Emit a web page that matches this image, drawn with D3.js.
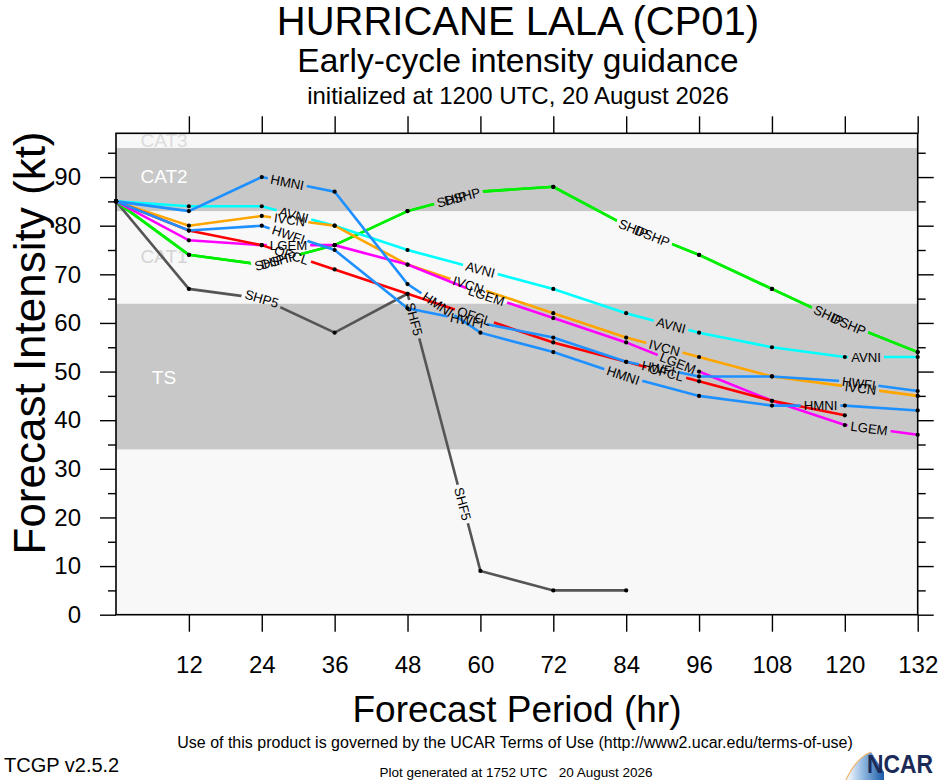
<!DOCTYPE html>
<html>
<head>
<meta charset="utf-8">
<script src="https://cdn.jsdelivr.net/npm/d3@7"></script>
<style>
  body { margin: 0; background: #fff; }
  text { font-family: "Liberation Sans", Arial, Helvetica, sans-serif; }
</style>
</head>
<body>
<svg id="chart"></svg>
<script>
// forecast hours and model intensities (kt)
const hours = [0, 12, 24, 36, 48, 60, 72, 84, 96, 108, 120, 132];
const shf5 = [85, 67, 65, 58, 66, 9, 5, 5, null, null, null, null];
const dshp = [85, 74, 72, 76, 83, 87, 88, 80, 74, 67, 60, 54];
const ship = [85, 74, 72, 76, 83, 87, 88, 80, 74, 67, 60, 54];
const avni = [85, 84, 84, 80, 75, 71, 67, 62, 58, 55, 53, 53];
const ivcn = [85, 80, 82, 80, 72, 67, 62, 57, 53, 49, 47, 45];
const lgem = [85, 77, 76, 76, 72, 66, 61, 56, 50, 44, 39, 37];
const ofcl = [85, 79, 76, 71, 66, 61, 56, 52, 48, 44, 41, null];
const hwfi = [85, 79, 80, 75, 63, 60, 57, 52, 49, 49, 48, 46];
const hmni = [85, 83, 90, 87, 68, 58, 54, 49, 45, 43, 43, 42];

// line labels along each track (forecast hour where the label sits)
const shf5Labels = [["SHP5", 24], ["SHF5", 49.1], ["SHF5", 57.1]];
const shipLabels = [25.3, 55.3, 85.2, 117.3];
const dshpLabels = [26.8, 57, 88.3, 120.6];
const avniLabels = [29.3, 60, 91.4, 123.5];
const ivcnLabels = [28.6, 58, 90.3, 122.6];
const lgemLabels = [28.4, 61, 92.5, 124];
const ofclLabels = [28.9, 59, 90.6];
const hwfiLabels = [28.4, 57.8, 89.3, 122.3];
const hmniLabels = [28.2, 53, 83.5, 116];

// intensity categories
const bandNames = ["TS", "CAT1", "CAT2", "CAT3"];
const bandLow = [34, 64, 83, 96];
const bandHigh = [64, 83, 96, 99];

const xTicks = [12, 24, 36, 48, 60, 72, 84, 96, 108, 120, 132];
const yTicks = [0, 10, 20, 30, 40, 50, 60, 70, 80, 90];
const yMinor = [5, 15, 25, 35, 45, 55, 65, 75, 85, 95];

const models = [
  { name: "SHF5", values: shf5, color: "#555555", labels: shf5Labels },
  { name: "DSHP", values: dshp, color: "#00ee00", labels: dshpLabels.map((h) => ["DSHP", h]) },
  { name: "SHIP", values: ship, color: "#00ee00", labels: shipLabels.map((h) => ["SHIP", h]) },
  { name: "AVNI", values: avni, color: "#00ffff", labels: avniLabels.map((h) => ["AVNI", h]) },
  { name: "IVCN", values: ivcn, color: "#ffa500", labels: ivcnLabels.map((h) => ["IVCN", h]) },
  { name: "LGEM", values: lgem, color: "#ff00ff", labels: lgemLabels.map((h) => ["LGEM", h]) },
  { name: "OFCL", values: ofcl, color: "#ff0000", labels: ofclLabels.map((h) => ["OFCL", h]) },
  { name: "HWFI", values: hwfi, color: "#1e90ff", labels: hwfiLabels.map((h) => ["HWFI", h]) },
  { name: "HMNI", values: hmni, color: "#1e90ff", labels: hmniLabels.map((h) => ["HMNI", h]) }
];

const width = 940,
  height = 780;
const labelSize = 13.2;

const svg = d3.select("#chart").attr("width", width).attr("height", height);

const x = d3.scaleLinear().domain([0, 132]).range([116, 917.7]);
const y = d3.scaleLinear().domain([0, 99]).range([614.7, 133.3]);

const defs = svg.append("defs");

// background + category bands
svg
  .append("rect")
  .attr("x", x(0))
  .attr("y", y(99))
  .attr("width", x(132) - x(0))
  .attr("height", y(0) - y(99))
  .attr("fill", "#f8f8f8");

svg
  .selectAll("rect.band")
  .data(bandNames)
  .enter()
  .append("rect")
  .attr("class", "band")
  .attr("x", x(0))
  .attr("y", (d, i) => y(bandHigh[i]))
  .attr("width", x(132) - x(0))
  .attr("height", (d, i) => y(bandLow[i]) - y(bandHigh[i]))
  .attr("fill", (d, i) => (i % 2 === 0 ? "#c8c8c8" : "#f8f8f8"));

// band labels
const bandLabelY = { TS: 384, CAT1: 263, CAT2: 183, CAT3: 146.5 };
svg
  .selectAll("text.band")
  .data(bandNames)
  .enter()
  .append("text")
  .attr("class", "band")
  .attr("x", 164)
  .attr("y", (d) => bandLabelY[d])
  .attr("text-anchor", "middle")
  .attr("font-size", 19)
  .attr("fill", (d, i) => (i % 2 === 0 ? "#ffffff" : i === 3 ? "#dcdcdc" : "#d4d4d4"))
  .text((d) => d);

// helpers to place labels on a track
function points(values) {
  return hours
    .map((h, i) => ({ h: h, v: values[i] }))
    .filter((p) => p.v !== null);
}

function posAt(pts, h) {
  let k = 0;
  while (k < pts.length - 2 && pts[k + 1].h <= h) k++;
  const a = pts[k],
    b = pts[k + 1];
  const t = (h - a.h) / (b.h - a.h);
  const px = x(h),
    py = y(a.v + (b.v - a.v) * t);
  const segAngle = (p, q) =>
    (Math.atan2(y(q.v) - y(p.v), x(q.h) - x(p.h)) * 180) / Math.PI;
  let angle = segAngle(a, b);
  // near a vertex, bend the label between the two segments
  if (t < 0.05 && k > 0) angle = (angle + segAngle(pts[k - 1], a)) / 2;
  return { x: px, y: py, angle: angle };
}

const lineGen = d3
  .line()
  .x((d) => x(d.h))
  .y((d) => y(d.v));

const lineLayer = svg.append("g");
const dotLayer = svg.append("g");
const labelLayer = svg.append("g");

// measure labels first so the line gaps fit the text
const measure = svg.append("text").attr("font-size", labelSize);
models.forEach((m) => {
  const pts = points(m.values);
  m.pts = pts;
  m.placed = m.labels.map(([txt, h]) => {
    measure.text(txt);
    const w = measure.node().getComputedTextLength();
    return Object.assign({ txt: txt, w: w }, posAt(pts, h));
  });
});
measure.remove();

models.forEach((m, mi) => {
  // lines with identical values share their gaps
  const key = JSON.stringify(m.values);
  const gaps = models
    .filter((o) => JSON.stringify(o.values) === key)
    .flatMap((o) => o.placed);

  const mask = defs.append("mask").attr("id", "gap" + mi).attr("maskUnits", "userSpaceOnUse")
    .attr("x", 0).attr("y", 0).attr("width", width).attr("height", height);
  mask.append("rect").attr("width", width).attr("height", height).attr("fill", "#fff");
  mask
    .selectAll("rect.g")
    .data(gaps)
    .enter()
    .append("rect")
    .attr("x", (d) => -d.w / 2 - 3)
    .attr("y", -7)
    .attr("width", (d) => d.w + 6)
    .attr("height", 14)
    .attr("fill", "#000")
    .attr("transform", (d) => `translate(${d.x},${d.y}) rotate(${d.angle})`);

  lineLayer
    .append("path")
    .datum(m.pts)
    .attr("d", lineGen)
    .attr("fill", "none")
    .attr("stroke", m.color)
    .attr("stroke-width", 2.6)
    .attr("mask", `url(#gap${mi})`);

  // markers, except where a label covers them
  const visible = m.pts.filter((p) =>
    !gaps.some((g) => {
      const dx = x(p.h) - g.x,
        dy = y(p.v) - g.y;
      const r = (-g.angle * Math.PI) / 180;
      const lx = dx * Math.cos(r) - dy * Math.sin(r);
      const ly = dx * Math.sin(r) + dy * Math.cos(r);
      return Math.abs(lx) < g.w / 2 + 3 && Math.abs(ly) < 7;
    })
  );
  dotLayer
    .selectAll(null)
    .data(visible)
    .enter()
    .append("circle")
    .attr("cx", (d) => x(d.h))
    .attr("cy", (d) => y(d.v))
    .attr("r", 2.1)
    .attr("fill", "#000");

  labelLayer
    .selectAll(null)
    .data(m.placed)
    .enter()
    .append("text")
    .attr("transform", (d) => `translate(${d.x},${d.y}) rotate(${d.angle})`)
    .attr("text-anchor", "middle")
    .attr("dy", "0.36em")
    .attr("font-size", labelSize)
    .attr("fill", "#000")
    .text((d) => d.txt);
});

// frame
svg
  .append("rect")
  .attr("x", x(0))
  .attr("y", y(99))
  .attr("width", x(132) - x(0))
  .attr("height", y(0) - y(99))
  .attr("fill", "none")
  .attr("stroke", "#000")
  .attr("stroke-width", 1.6);

function styleAxis(g) {
  g.select(".domain").remove();
  g.selectAll("line").attr("stroke", "#000").attr("stroke-width", 1.4);
  g.selectAll("text").attr("fill", "#000").attr("font-size", 24)
    .attr("font-family", '"Liberation Sans", Arial, sans-serif');
}

// X Axis
svg
  .append("g")
  .attr("transform", `translate(0,${y(0)})`)
  .call(d3.axisBottom(x).tickValues(xTicks).tickSize(17).tickPadding(24))
  .call(styleAxis);

svg
  .append("g")
  .attr("transform", `translate(0,${y(99)})`)
  .call(d3.axisTop(x).tickValues(xTicks).tickSize(17).tickFormat(""))
  .call(styleAxis);

// Y Axis
svg
  .append("g")
  .attr("transform", `translate(${x(0)},0)`)
  .call(d3.axisLeft(y).tickValues(yTicks).tickSize(16).tickPadding(19))
  .call(styleAxis);

svg
  .append("g")
  .attr("transform", `translate(${x(0)},0)`)
  .call(d3.axisLeft(y).tickValues(yMinor).tickSize(8).tickFormat(""))
  .call(styleAxis);

svg
  .append("g")
  .attr("transform", `translate(${x(132)},0)`)
  .call(d3.axisRight(y).tickValues(yTicks).tickSize(16).tickFormat(""))
  .call(styleAxis);

svg
  .append("g")
  .attr("transform", `translate(${x(132)},0)`)
  .call(d3.axisRight(y).tickValues(yMinor).tickSize(8).tickFormat(""))
  .call(styleAxis);

// Labels
svg
  .append("text")
  .attr("x", 517)
  .attr("y", 722)
  .attr("text-anchor", "middle")
  .attr("font-size", 37)
  .text("Forecast Period (hr)");

svg
  .append("text")
  .attr("transform", "rotate(-90)")
  .attr("x", -343)
  .attr("y", 45)
  .attr("text-anchor", "middle")
  .attr("font-size", 44)
  .text("Forecast Intensity (kt)");

// titles
svg
  .append("text")
  .attr("x", 518)
  .attr("y", 35)
  .attr("text-anchor", "middle")
  .attr("font-size", 40)
  .text("HURRICANE LALA (CP01)");

svg
  .append("text")
  .attr("x", 518)
  .attr("y", 72)
  .attr("text-anchor", "middle")
  .attr("font-size", 33.5)
  .text("Early-cycle intensity guidance");

svg
  .append("text")
  .attr("x", 518)
  .attr("y", 104)
  .attr("text-anchor", "middle")
  .attr("font-size", 24)
  .text("initialized at 1200 UTC, 20 August 2026");

// footer
svg
  .append("text")
  .attr("x", 515)
  .attr("y", 748)
  .attr("text-anchor", "middle")
  .attr("font-size", 16)
  .text("Use of this product is governed by the UCAR Terms of Use (http://www2.ucar.edu/terms-of-use)");

svg
  .append("text")
  .attr("x", 4)
  .attr("y", 772)
  .attr("font-size", 20)
  .text("TCGP v2.5.2");

svg
  .append("text")
  .attr("x", 516)
  .attr("y", 777)
  .attr("text-anchor", "middle")
  .attr("font-size", 13.5)
  .style("white-space", "pre")
  .text("Plot generated at 1752 UTC   20 August 2026");

// NCAR logo
const grad = defs
  .append("linearGradient")
  .attr("id", "ncarGrad")
  .attr("x1", "0%")
  .attr("x2", "100%")
  .attr("y1", "0%")
  .attr("y2", "0%");
grad.append("stop").attr("offset", "0%").attr("stop-color", "#ffffff");
grad.append("stop").attr("offset", "45%").attr("stop-color", "#8fb8e0");
grad.append("stop").attr("offset", "100%").attr("stop-color", "#1a5aa8");

svg
  .append("path")
  .attr("d", "M846,780 Q856,758 871,752 L884,772 L884,780 Z")
  .attr("fill", "url(#ncarGrad)");
svg
  .append("path")
  .attr("d", "M846,780 Q856,758 871,752")
  .attr("fill", "none")
  .attr("stroke", "#f2b36b")
  .attr("stroke-width", 1.2);

svg
  .append("text")
  .attr("x", 867)
  .attr("y", 773)
  .attr("font-size", 25)
  .attr("font-weight", "bold")
  .attr("fill", "#1b2a56")
  .attr("textLength", 66)
  .attr("lengthAdjust", "spacingAndGlyphs")
  .text("NCAR");
</script>
</body>
</html>
